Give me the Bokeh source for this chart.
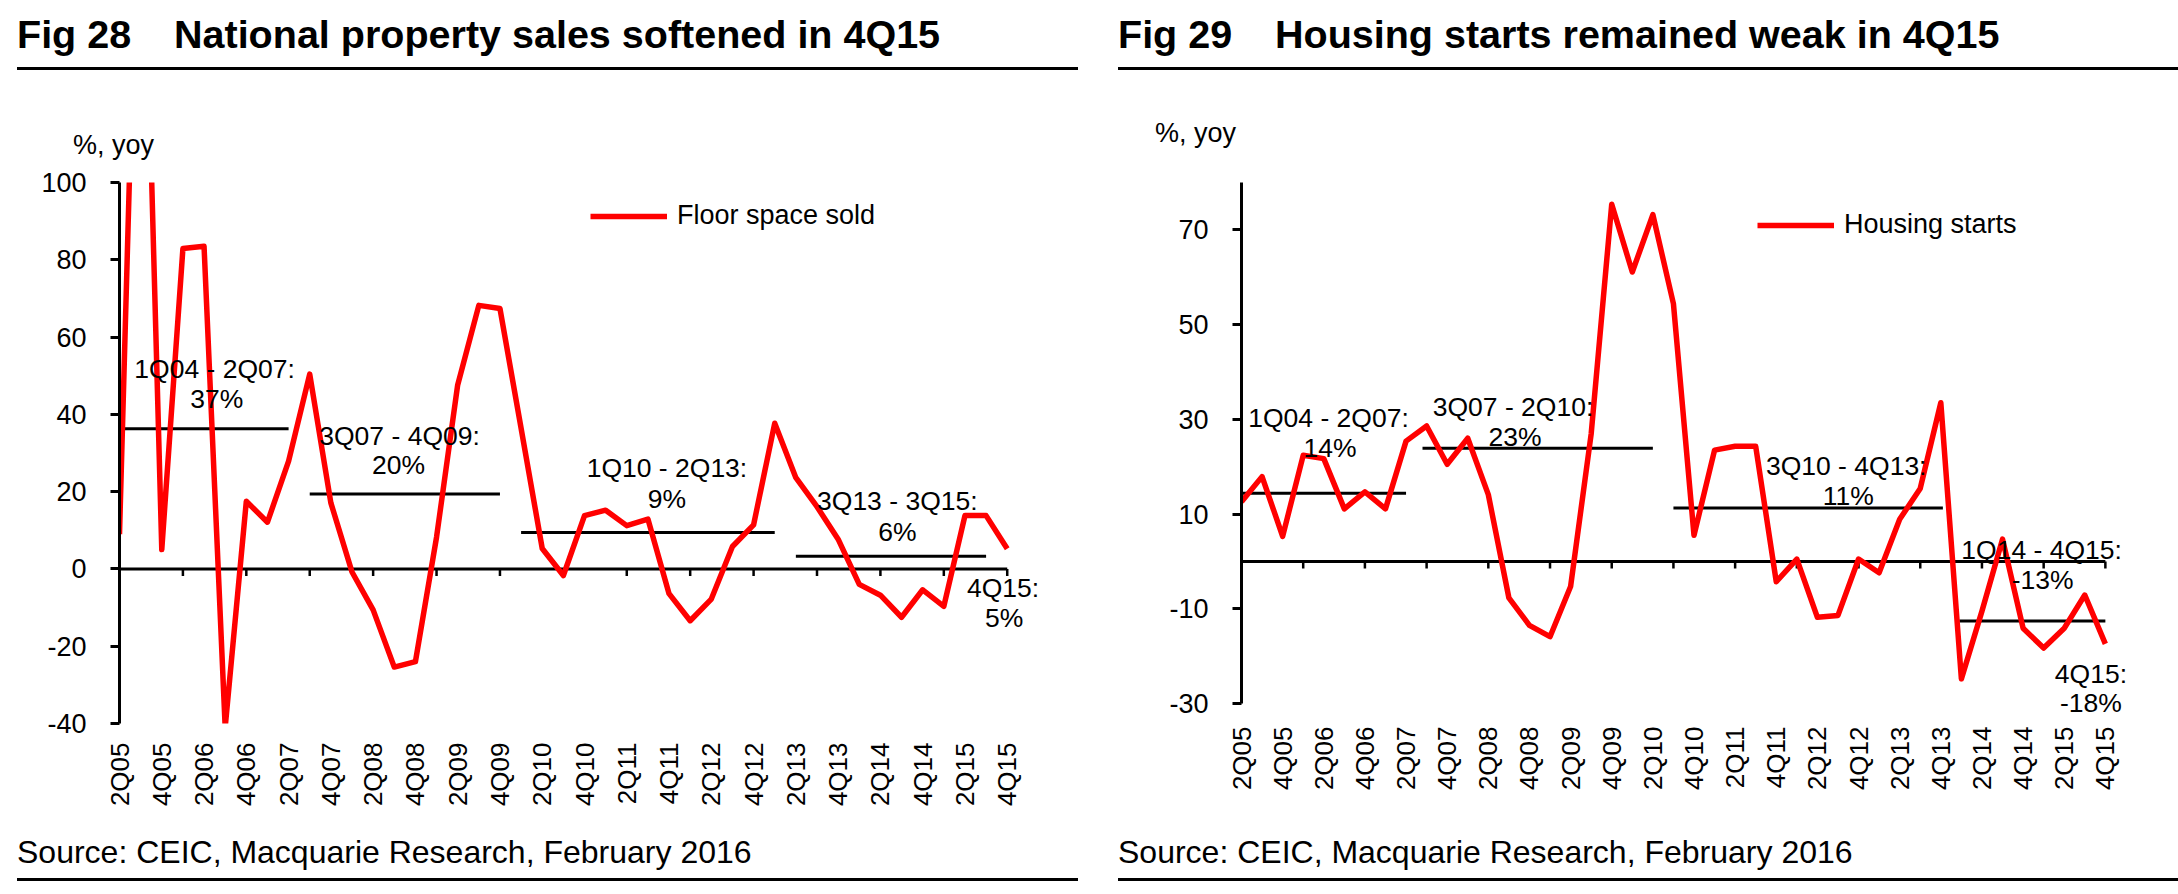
import math
from bokeh.plotting import figure
from bokeh.models import Legend, LegendItem, FixedTicker, Range1d, Label, Div
from bokeh.layouts import row, column
from bokeh.embed import file_html
from bokeh.resources import INLINE

# ---------------- data ----------------
quarters = ["2Q05", "3Q05", "4Q05"] + [f"{q}Q{y:02d}" for y in range(6, 16) for q in range(1, 5)]
x_idx = list(range(len(quarters)))
x_tick_idx = x_idx[::2]
x_tick_labels = quarters[::2]

floor_space = [9, 205, 5, 82.9, 83.5, -41, 17.5, 12.1, 27.9, 50.4, 17.1, -0.8, -10.6,
               -25.4, -24.0, 8.2, 47.6, 68.2, 67.4, 36.4, 5.3, -1.7, 13.8, 15.2, 11.2,
               12.9, -6.4, -13.4, -7.8, 5.8, 11.4, 37.7, 23.6, 16.1, 7.7, -4.0, -6.8,
               -12.5, -5.4, -9.7, 13.8, 13.8, 5.2]
housing_starts = [12.6, 17.9, 5.3, 22.4, 21.7, 11.1, 14.7, 11.1, 25.4, 28.6, 20.5, 26.0,
                  14.1, -7.7, -13.5, -15.9, -5.3, 26.9, 75.4, 61.1, 73.2, 54.4, 5.5,
                  23.5, 24.3, 24.3, -4.3, 0.5, -11.8, -11.4, 0.5, -2.4, 8.9, 15.4, 33.5,
                  -24.8, -10.5, 4.7, -14.1, -18.3, -14.1, -7.1, -17.4]

# period averages (start index, end index, value)
fs_avg_start = [0, 9, 19, 32]
fs_avg_end = [8, 18, 31, 41]
fs_avg_value = [36.3, 19.4, 9.4, 3.3]
hs_avg_start = [0, 8.8, 21, 34.9]
hs_avg_end = [8, 20, 34.1, 42]
hs_avg_value = [14.4, 23.9, 11.3, -12.6]

fs_yticks = [100, 80, 60, 40, 20, 0, -20, -40]
hs_yticks = [70, 50, 30, 10, -10, -30]

FONT = "Liberation Sans"
COL_W = 1089
HEAD_H = 165
PLOT_H = 665
FOOT_H = 60
FRAME_TOP = 182      # page y of frame top
FRAME_BOTTOM = 723   # page y of frame bottom (same for both charts)


def header_div(cfg):
    html = (
        f'<div style="position:relative;width:{COL_W}px;height:{HEAD_H}px;'
        f'font-family:\'{FONT}\';color:#000;">'
        f'<span style="position:absolute;left:{cfg["title_x"]}px;top:14.6px;font-size:39.5px;'
        f'line-height:1;font-weight:bold;white-space:nowrap;">{cfg["fig"]}</span>'
        f'<span style="position:absolute;left:{cfg["title_x"] + 157}px;top:14.6px;font-size:39.5px;'
        f'line-height:1;font-weight:bold;white-space:nowrap;">{cfg["title"]}</span>'
        f'<div style="position:absolute;left:{cfg["title_x"]}px;top:66.5px;'
        f'width:{cfg["rule_right"] - cfg["title_x"]}px;height:3px;background:#000;"></div>'
        f'<span style="position:absolute;left:{cfg["yoy_x"]}px;top:{cfg["yoy_base"] - 22.9}px;'
        f'font-size:27px;line-height:1;white-space:nowrap;">%, yoy</span>'
        f'</div>'
    )
    return Div(text=html, width=COL_W, height=HEAD_H, margin=0)


def footer_div(cfg):
    html = (
        f'<div style="position:relative;width:{COL_W}px;height:{FOOT_H}px;'
        f'font-family:\'{FONT}\';color:#000;">'
        f'<span style="position:absolute;left:{cfg["title_x"]}px;top:5.9px;font-size:32px;'
        f'line-height:1;white-space:nowrap;">Source: CEIC, Macquarie Research, February 2016</span>'
        f'<div style="position:absolute;left:{cfg["title_x"]}px;top:47.5px;'
        f'width:{cfg["rule_right"] - cfg["title_x"]}px;height:3px;background:#000;"></div>'
        f'</div>'
    )
    return Div(text=html, width=COL_W, height=FOOT_H, margin=0)


def make_chart(cfg):
    fl, fw = cfg["frame_left"], cfg["frame_w"]
    ylo, yhi = cfg["yaxis_bounds"]
    # pixel scale from the axis extent in the picture
    ypp = (cfg["axis_bottom_px"] - FRAME_TOP) / (yhi - ylo)
    ymin = ylo - (FRAME_BOTTOM - cfg["axis_bottom_px"]) / ypp
    xmax = 44

    p = figure(width=COL_W, height=PLOT_H, x_range=Range1d(0, xmax), y_range=Range1d(ymin, yhi),
               output_backend="svg", toolbar_location=None, title=None,
               min_border_left=fl, min_border_right=COL_W - fl - fw,
               min_border_top=FRAME_TOP - HEAD_H,
               min_border_bottom=HEAD_H + PLOT_H - FRAME_BOTTOM)
    p.xgrid.visible = False
    p.ygrid.visible = False
    p.outline_line_color = None
    p.background_fill_color = "white"
    p.border_fill_color = "white"

    xa = p.xaxis[0]
    xa.ticker = FixedTicker(ticks=x_tick_idx)
    xa.major_label_overrides = {i: lab for i, lab in zip(x_tick_idx, x_tick_labels)}
    xa.axis_line_color = None
    xa.major_tick_line_color = None
    xa.minor_tick_line_color = None
    xa.major_tick_out = 0
    xa.major_tick_in = 0
    xa.major_label_standoff = cfg["xlab_top_px"] - FRAME_BOTTOM
    xa.major_label_orientation = math.pi / 2
    xa.major_label_text_font = FONT
    xa.major_label_text_font_size = "26px"
    xa.major_label_text_color = "black"

    ya = p.yaxis[0]
    ya.bounds = (ylo, yhi)
    ya.ticker = FixedTicker(ticks=cfg["yticks"])
    ya.major_label_overrides = {v: str(v) for v in cfg["yticks"]}
    ya.axis_line_color = "black"
    ya.axis_line_width = 3
    ya.major_tick_line_color = "black"
    ya.major_tick_line_width = 3
    ya.major_tick_out = 9
    ya.major_tick_in = 0
    ya.minor_tick_line_color = None
    ya.major_label_standoff = cfg["ylab_standoff"]
    ya.major_label_text_font = FONT
    ya.major_label_text_font_size = "27px"
    ya.major_label_text_color = "black"

    # zero line with category tick marks
    last = len(quarters) - 1
    p.segment(x0=[0], y0=[0], x1=[last], y1=[0], line_color="black", line_width=3)
    tick_pos = x_idx[::3]
    tick_len = 7 / ypp
    p.segment(x0=tick_pos, y0=[0] * len(tick_pos), x1=tick_pos, y1=[-tick_len] * len(tick_pos),
              line_color="black", line_width=2.5)

    # period average lines
    p.segment(x0=cfg["avg_start"], y0=cfg["avg_value"], x1=cfg["avg_end"], y1=cfg["avg_value"],
              line_color="black", line_width=3)

    r = p.line(x_idx, cfg["values"], line_color="#FF0000", line_width=5.5, line_join="round")

    legend = Legend(items=[LegendItem(label=cfg["legend"], renderers=[r])],
                    location=cfg["legend_loc"], padding=0, margin=0, spacing=0,
                    border_line_color=None, background_fill_alpha=0,
                    glyph_width=77, glyph_height=20, label_height=20, label_standoff=10,
                    label_text_font=FONT, label_text_font_size="27px",
                    label_text_color="black")
    p.add_layout(legend, "center")

    for txt, x, y in cfg["notes"]:
        p.add_layout(Label(x=x, y=y, text=txt, text_align="center", text_baseline="middle",
                           text_font=FONT, text_font_size="26.5px", text_color="black"))
    return p


left_cfg = dict(
    frame_left=119, frame_w=930, axis_bottom_px=723,
    yaxis_bounds=(-40, 100), yticks=fs_yticks, xlab_top_px=742, ylab_standoff=24,
    values=floor_space, avg_start=fs_avg_start, avg_end=fs_avg_end, avg_value=fs_avg_value,
    legend="Floor space sold", legend_loc=(471, 492),
    notes=[("1Q04 - 2Q07:", 4.5, 51.8), ("37%", 4.6, 44.0),
           ("3Q07 - 4Q09:", 13.25, 34.4), ("20%", 13.2, 26.9),
           ("1Q10 - 2Q13:", 25.9, 26.0), ("9%", 25.9, 18.0),
           ("3Q13 - 3Q15:", 36.8, 17.5), ("6%", 36.8, 9.6),
           ("4Q15:", 41.8, -5.0), ("5%", 41.86, -12.7)],
    fig="Fig 28", title="National property sales softened in 4Q15",
    title_x=17, rule_right=1078, yoy_x=73, yoy_base=155,
)

right_cfg = dict(
    frame_left=152, frame_w=905, axis_bottom_px=703,
    yaxis_bounds=(-30, 80), yticks=hs_yticks, xlab_top_px=726, ylab_standoff=24,
    values=housing_starts, avg_start=hs_avg_start, avg_end=hs_avg_end, avg_value=hs_avg_value,
    legend="Housing starts", legend_loc=(516, 483),
    notes=[("1Q04 - 2Q07:", 4.23, 30.2), ("14%", 4.3, 23.9),
           ("3Q07 - 2Q10:", 13.2, 32.6), ("23%", 13.3, 26.2),
           ("3Q10 - 4Q13:", 29.4, 20.2), ("11%", 29.5, 13.8),
           ("1Q14 - 4Q15:", 38.9, 2.5), ("-13%", 38.95, -3.9),
           ("4Q15:", 41.3, -23.8), ("-18%", 41.3, -29.8)],
    fig="Fig 29", title="Housing starts remained weak in 4Q15",
    title_x=29, rule_right=1089, yoy_x=66, yoy_base=143,
)

cols = []
for cfg in (left_cfg, right_cfg):
    cols.append(column(header_div(cfg), make_chart(cfg), footer_div(cfg), spacing=0))
layout = row(*cols, spacing=0)

open("out.html", "w").write(file_html(layout, INLINE))
